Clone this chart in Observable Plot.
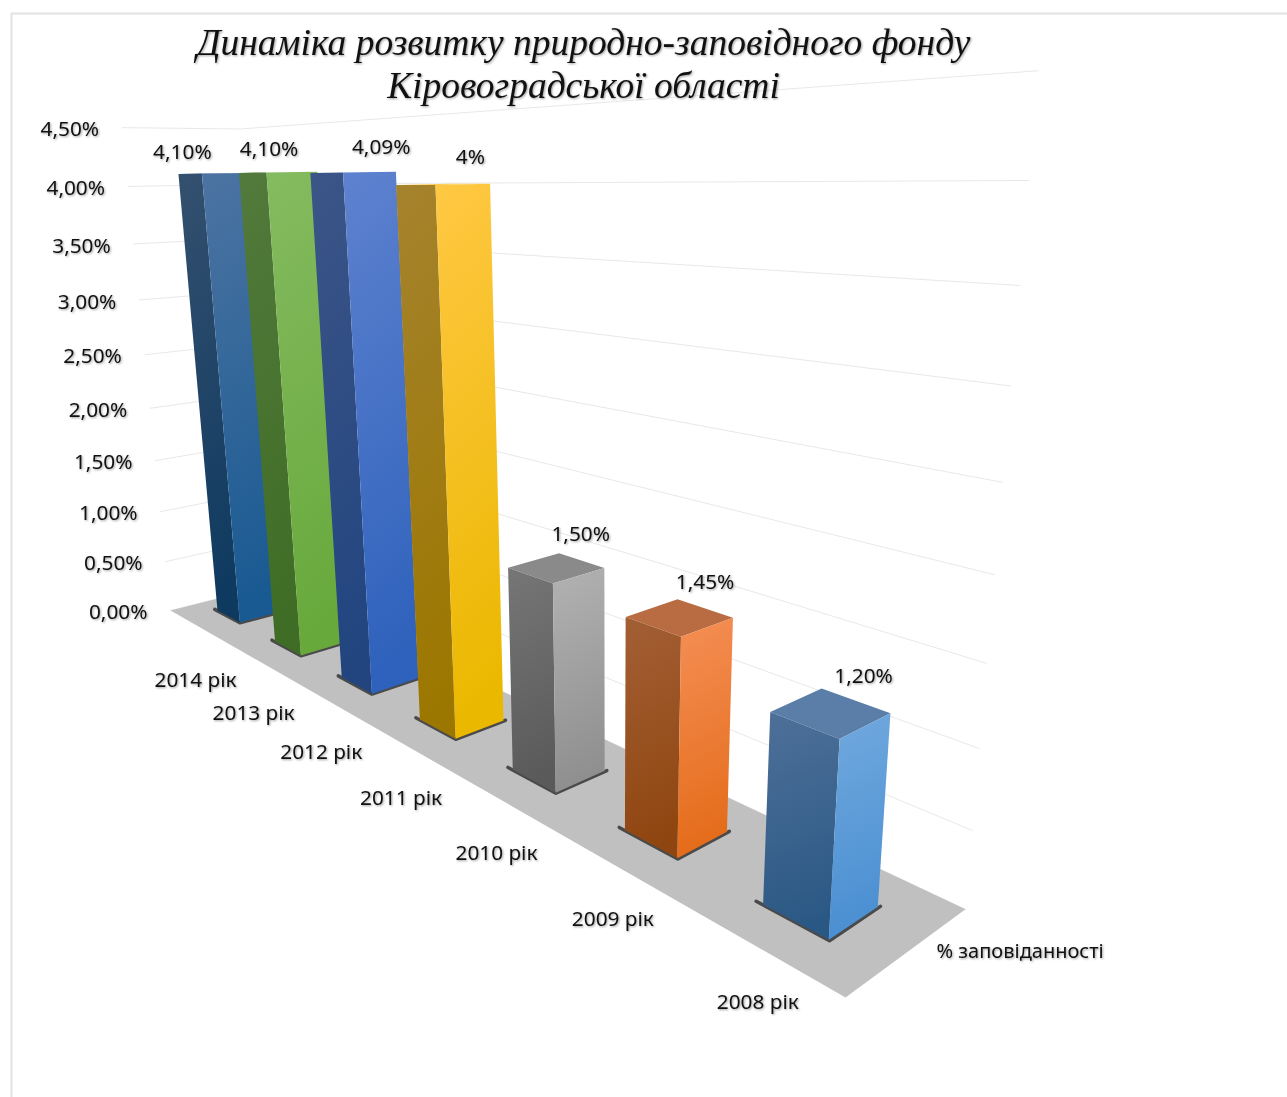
<!DOCTYPE html>
<html lang="uk">
<head>
<meta charset="utf-8">
<title>Динаміка розвитку природно-заповідного фонду Кіровоградської області</title>
<script src="https://cdn.jsdelivr.net/npm/d3@7"></script>
<script src="https://cdn.jsdelivr.net/npm/@observablehq/plot@0.6"></script>
<style>
  html, body { margin: 0; padding: 0; background: #fff; }
  svg text { filter: drop-shadow(1.5px 1.5px 1.2px rgba(0, 0, 0, 0.38)); }
  .contact { filter: blur(0.7px); }
</style>
</head>
<body>
<div id="chart"></div>
<script>
// Protected-area share of Kirovohrad oblast, by year (furthest bar first).
const years = ["2014 рік", "2013 рік", "2012 рік", "2011 рік", "2010 рік", "2009 рік", "2008 рік"];
const shares = [4.10, 4.10, 4.09, 4, 1.50, 1.45, 1.20];
const shareLabels = ["4,10%", "4,10%", "4,09%", "4%", "1,50%", "1,45%", "1,20%"];
const ticks = [0, 0.5, 1, 1.5, 2, 2.5, 3, 3.5, 4, 4.5];
const tickLabels = ["0,00%", "0,50%", "1,00%", "1,50%", "2,00%", "2,50%", "3,00%", "3,50%", "4,00%", "4,50%"];
const seriesName = "% заповіданності";
const titleLines = ["Динаміка розвитку природно-заповідного фонду", "Кіровоградської області"];

// Per-bar colour stops: side face, front face, top face.
const sideTop = ["#34506f", "#527a3c", "#3c5587", "#a5832e", "#767676", "#a35f35", "#4e7099"];
const sideBottom = ["#0f3a60", "#3f6d25", "#224580", "#9c7700", "#5a5a5a", "#8f450f", "#2a5884"];
const frontTop = ["#4c74a2", "#85bb60", "#5e82cf", "#ffc844", "#b2b2b2", "#f58f56", "#71a9de"];
const frontBottom = ["#1a5a92", "#68a93c", "#2f62bc", "#ebb800", "#8f8f8f", "#e46c1a", "#4a8fd2"];
const topFace = ["#4c74a2", "#85bb60", "#5e82cf", "#ffc844", "#8a8a8a", "#b96c42", "#5a7ea8"];

// Offset of each value label from the bar's top centre.
const labelShift = [-32, -9, 28, 27, 24, 25, 32];
const labelRise = [21, 23, 25, 27, 34, 36, 38];

// Perspective camera: u runs along the years, v across the bar row, h is the value in percent.
function project(u, v, h) {
  const w = 1 - 0.478 * u + 0.0605 * v - 0.022 * h;
  return [
    (170 + 271.1 * u + 121 * v - 13.42 * h) / w,
    (610 - 89.6 * u + 9 * v - 110.1 * h) / w
  ];
}
const pt = (u, v, h) => { const [x, y] = project(u, v, h); return {x, y}; };

const barBack = 0.031;
const barFront = 0.027;
const barV0 = 0.295;
const barV1 = 0.70;
const slot = (i) => (i + 0.5) / years.length;

const floor = [pt(0, 0, 0), pt(1, 0, 0), pt(1, 1, 0), pt(0, 1, 0)];

// Wall gridlines: across the side wall, then along the back wall.
const grid = ticks.flatMap((t) => [
  {t, ...pt(0, 0, t)},
  {t, ...pt(0, 1, t)},
  {t, ...pt(1, 1, t)}
]);

const gradient = (id, a, b) =>
  `<linearGradient id="${id}" x1="0" y1="0" x2="0.12" y2="1"><stop offset="0" stop-color="${a}"/><stop offset="1" stop-color="${b}"/></linearGradient>`;

function defs() {
  const g = document.createElementNS("http://www.w3.org/2000/svg", "defs");
  g.innerHTML = years.map((_, i) =>
    gradient(`side${i}`, sideTop[i], sideBottom[i]) + gradient(`front${i}`, frontTop[i], frontBottom[i])
  ).join("");
  return g;
}

const face = (points, fill) => Plot.line(points, {x: "x", y: "y", fill, stroke: "none"});

// Each bar: contact shadow, top, side face, front face; furthest bar is drawn first.
const barMarks = shares.flatMap((h, i) => {
  const u0 = slot(i) - barBack;
  const u1 = slot(i) + barFront;
  return [
    Plot.line([pt(u0 - 0.006, barV0 - 0.004, 0), pt(u1 + 0.001, barV0 - 0.004, 0), pt(u1 + 0.001, barV1 + 0.012, 0)],
      {x: "x", y: "y", stroke: "#4a4a4a", strokeWidth: 3.5, strokeLinejoin: "round", className: "contact"}),
    face([pt(u0, barV0, h), pt(u1, barV0, h), pt(u1, barV1, h), pt(u0, barV1, h)], topFace[i]),
    face([pt(u0, barV0, h), pt(u1, barV0, h), pt(u1, barV0, 0), pt(u0, barV0, 0)], `url(#side${i})`),
    face([pt(u1, barV0, h), pt(u1, barV1, h), pt(u1, barV1, 0), pt(u1, barV0, 0)], `url(#front${i})`)
  ];
});

const valueLabels = shares.map((h, i) => {
  const p = pt(slot(i), 0.49, h);
  return {text: shareLabels[i], x: p.x + labelShift[i], y: p.y - labelRise[i]};
});
const yearLabels = years.map((text, i) => {
  const p = pt(slot(i), 0, 0);
  return {text, x: p.x - 1, y: p.y + 55};
});
const tickText = ticks.map((t, i) => {
  const p = pt(0, 0, t);
  return {text: tickLabels[i], x: p.x - 23, y: p.y + 2};
});
const seriesAnchor = pt(1, 0.5, 0);

const labelFont = {fontFamily: "'Noto Sans', sans-serif", fontSize: 20.8, fill: "#111"};

const chart = Plot.plot({
  width: 1287,
  height: 1097,
  margin: 0,
  style: {background: "#fff", overflow: "hidden"},
  x: {domain: [0, 1287], range: [0, 1287], axis: null},
  y: {domain: [0, 1097], range: [0, 1097], axis: null},
  marks: [
    defs,
    Plot.ruleY([13], {x1: 11, x2: 1287, stroke: "#e2e2e2", strokeWidth: 2}),
    Plot.ruleX([11], {y1: 13, y2: 1097, stroke: "#e2e2e2", strokeWidth: 2}),
    Plot.line(grid, {x: "x", y: "y", z: "t", stroke: "#e8e8e8", strokeWidth: 1}),
    face(floor, "#c0c0c0"),
    ...barMarks,
    Plot.text(tickText, {x: "x", y: "y", text: "text", textAnchor: "end", ...labelFont}),
    Plot.text(yearLabels, {x: "x", y: "y", text: "text", ...labelFont}),
    Plot.text(valueLabels, {x: "x", y: "y", text: "text", ...labelFont}),
    Plot.text([seriesName], {x: [936], y: [seriesAnchor.y + 1], text: (d) => d, textAnchor: "start", ...labelFont, fontSize: 20}),
    Plot.text(titleLines, {
      x: [583, 583],
      y: [42, 85],
      text: (d) => d,
      fontFamily: "'Liberation Serif', serif",
      fontStyle: "italic",
      fontSize: 37.5,
      fill: "#111"
    })
  ]
});

document.getElementById("chart").append(chart);
</script>
</body>
</html>
